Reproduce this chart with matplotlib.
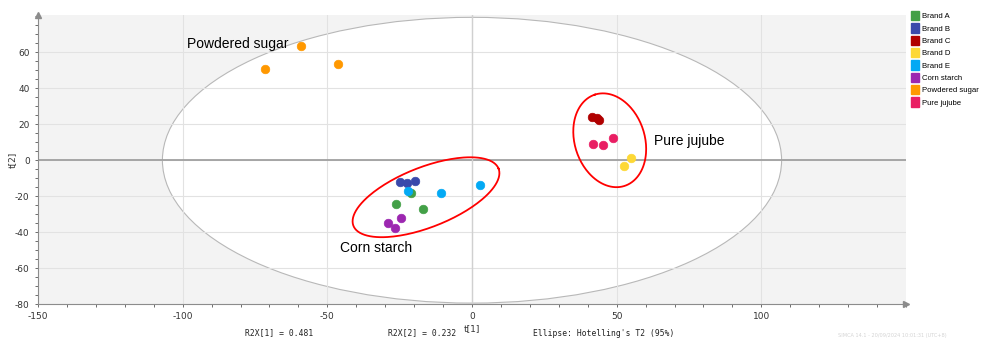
import matplotlib
matplotlib.use('Agg')
import matplotlib.pyplot as plt
from matplotlib.patches import Ellipse, Patch
from matplotlib.ticker import MultipleLocator
import numpy as np

plt.rcParams['axes.unicode_minus'] = False

# score values t[1], t[2] per sample group
groups = ['Brand A', 'Brand B', 'Brand C', 'Brand D', 'Brand E',
          'Corn starch', 'Powdered sugar', 'Pure jujube']
colors = ['#43a047', '#3949ab', '#b00000', '#fdd835', '#03a9f4',
          '#9c27b0', '#ff9800', '#e91e63']

t1_brand_a = [-21.0, -26.3, -16.9]
t2_brand_a = [-18.5, -24.4, -27.2]
t1_brand_b = [-24.8, -22.5, -19.8]
t2_brand_b = [-12.2, -12.9, -11.5]
t1_brand_c = [41.6, 43.1, 43.8]
t2_brand_c = [24.2, 23.3, 22.2]
t1_brand_d = [54.9, 52.7]
t2_brand_d = [1.3, -3.3]
t1_brand_e = [-22.2, -10.8, 2.7]
t2_brand_e = [-17.1, -18.2, -13.7]
t1_corn = [-24.5, -28.9, -26.6]
t2_corn = [-32.0, -35.2, -37.9]
t1_sugar = [-59.1, -71.4, -46.3]
t2_sugar = [63.5, 50.9, 53.3]
t1_jujube = [41.8, 45.4, 48.9]
t2_jujube = [8.9, 8.2, 12.4]

t1 = [t1_brand_a, t1_brand_b, t1_brand_c, t1_brand_d, t1_brand_e, t1_corn, t1_sugar, t1_jujube]
t2 = [t2_brand_a, t2_brand_b, t2_brand_c, t2_brand_d, t2_brand_e, t2_corn, t2_sugar, t2_jujube]

# Hotelling's T2 (95%) semi axes
t2_ell = (107.0, 79.5)

r2x = [0.481, 0.232]

fig = plt.figure(figsize=(9.81, 3.39), dpi=100)
ax = fig.add_axes([38/981., 35/339., 868/981., 289/339.])
ax.set_facecolor('#f3f3f3')
ax.set_xlim(-150, 150)
ax.set_ylim(-80, 80.8)

ax.add_patch(Ellipse((0, 0), 2*t2_ell[0], 2*t2_ell[1], facecolor='white',
                     edgecolor='#b8b8b8', lw=0.8, zorder=0.2))

# grid
ax.set_axisbelow(True)
ax.xaxis.set_major_locator(MultipleLocator(50))
ax.xaxis.set_minor_locator(MultipleLocator(10))
ax.yaxis.set_major_locator(MultipleLocator(20))
ax.yaxis.set_minor_locator(MultipleLocator(5))
ax.grid(True, which='major', color='#e2e2e2', lw=0.8)
ax.axhline(0, color='#a0a0a0', lw=1.3, zorder=0.6)
ax.axvline(0, color='#d0d0d0', lw=1.0, zorder=0.6)

for sp in ['top', 'right']:
    ax.spines[sp].set_visible(False)
for sp in ['left', 'bottom']:
    ax.spines[sp].set_color('#8c8c8c')
    ax.spines[sp].set_linewidth(0.8)
ax.plot(0, 1, '^', color='#8c8c8c', ms=4, transform=ax.transAxes, clip_on=False)
ax.plot(1, 0, '>', color='#8c8c8c', ms=4, transform=ax.transAxes, clip_on=False)

ax.tick_params(which='both', colors='#555555', labelcolor='#333333', labelsize=6.5,
               length=2.5, width=0.6)
ax.tick_params(which='minor', length=2)
ax.set_xticks([-150, -100, -50, 0, 50, 100])
ax.set_yticks([-80, -60, -40, -20, 0, 20, 40, 60])

ax.set_xlabel('t[1]', fontsize=6.5, color='#333333')
ax.xaxis.set_label_coords(0.5, -0.068)
ax.set_ylabel('t[2]', fontsize=6.5, color='#333333')
ax.yaxis.set_label_coords(-0.024, 0.5)

# scores
for i in range(0, len(groups)):
    ax.scatter(t1[i], t2[i], s=38, color=colors[i], edgecolors=colors[i],
               linewidths=0.5, zorder=3)

# red group ellipses, sized in screen pixels
sx = 868/300.
sy = 289/160.8
def grp_ellipse(cx, cy, a, b, ang):
    th = np.linspace(0, 2*np.pi, 200)
    r = np.radians(ang)
    px = a*np.cos(th)*np.cos(r) - b*np.sin(th)*np.sin(r)
    py = a*np.cos(th)*np.sin(r) + b*np.sin(th)*np.cos(r)
    ax.plot(cx + px/sx, cy + py/sy, color='#ff0000', lw=1.3, zorder=4)

grp_ellipse(-15.9, -20.6, 78, 30, 21.5)
grp_ellipse(47.6, 11.1, 48, 35, 108)

lab = 'Liberation Sans'
ax.text(-98.5, 64.5, 'Powdered sugar', fontsize=10, family=lab, ha='left', va='center')
ax.text(63, 10.5, 'Pure jujube', fontsize=10, family=lab, ha='left', va='center')
ax.text(-45.5, -49, 'Corn starch', fontsize=10, family=lab, ha='left', va='center')

handles = [Patch(facecolor=c, edgecolor=c) for c in colors]
fig.legend(handles, groups, loc='upper left', bbox_to_anchor=(911/981., 1 - 11/339.),
           frameon=False, prop={'family': lab, 'size': 5.6}, handlelength=1.0,
           handleheight=1.45, handletextpad=0.35, labelspacing=0.4, borderaxespad=0,
           borderpad=0)

mono = 'DejaVu Sans Mono'
fig.text(245/981., 1 - 333/339., 'R2X[1] = %0.3f' % r2x[0], family=mono, fontsize=5.8,
         va='center', color='#222222')
fig.text(388/981., 1 - 333/339., 'R2X[2] = %0.3f' % r2x[1], family=mono, fontsize=5.8,
         va='center', color='#222222')
fig.text(533/981., 1 - 333/339., "Ellipse: Hotelling's T2 (95%)", family=mono, fontsize=5.8,
         va='center', color='#222222')
fig.text(838/981., 1 - 336/339., 'SIMCA 14.1 - 20/09/2024 10:01:31 (UTC+8)', fontsize=3.6,
         va='center', color='#d4d4d4')

fig.savefig('out.png', dpi=100)
